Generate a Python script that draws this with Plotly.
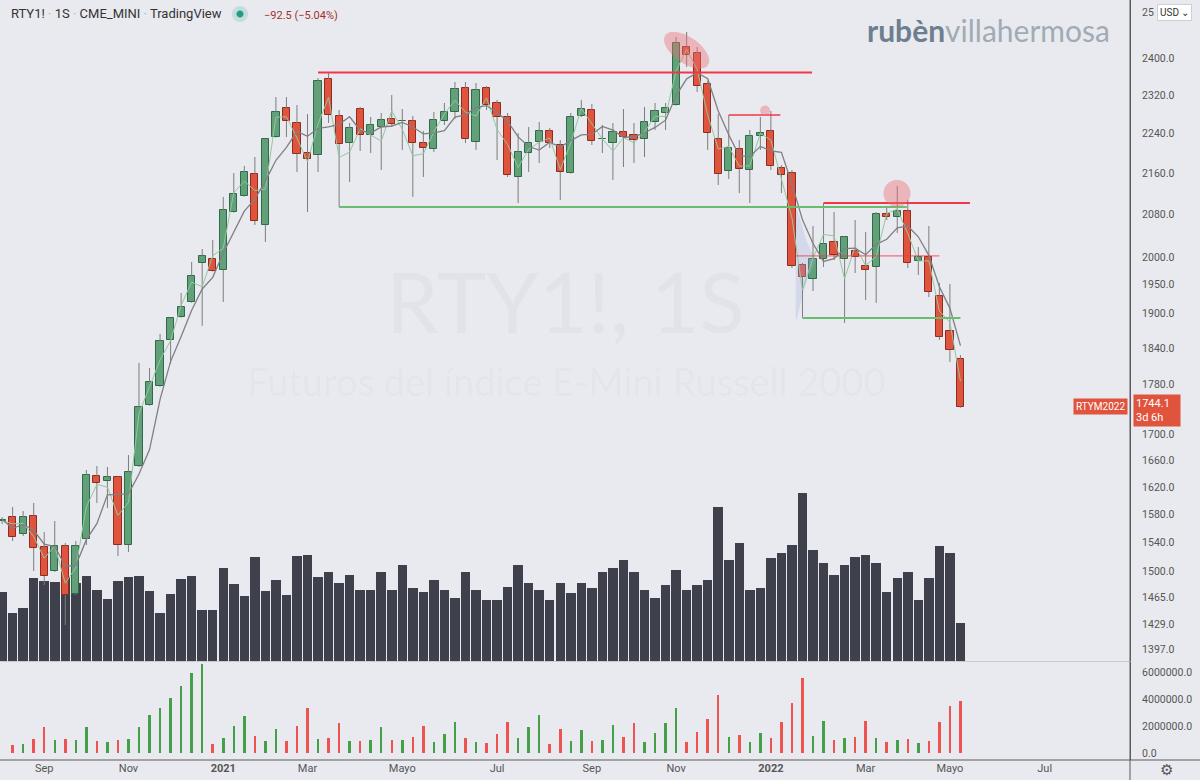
import math
import numpy as np
import pandas as pd
import plotly.graph_objects as go

# ---------------- data (weekly bars, RTY1! continuous) ----------------
week_start = pd.date_range("2020-08-10", periods=92, freq="7D")

opens = [1570.5, 1576.3, 1551.9, 1577.7, 1533.6, 1500.2, 1535.0, 1469.0, 1544.9, 1636.6,
         1629.1, 1635.1, 1536.4, 1651.6, 1746.8, 1777.3, 1853.8, 1893.1, 1919.3, 1989.0,
         1996.3, 1976.3, 2084.1, 2114.9, 2157.9, 2059.5, 2232.3, 2292.4, 2261.1, 2199.8,
         2195.8, 2354.1, 2275.7, 2220.1, 2290.3, 2236.4, 2252.9, 2269.4, 2265.3, 2265.3,
         2220.1, 2207.9, 2265.3, 2284.0, 2334.8, 2222.1, 2334.8, 2302.9, 2273.6, 2152.0,
         2199.8, 2222.1, 2244.6, 2216.0, 2159.9, 2275.7, 2288.2, 2228.2, 2220.1, 2242.6,
         2236.4, 2228.2, 2263.2, 2281.9, 2298.7, 2424.1, 2410.8, 2343.3, 2228.2, 2163.9,
         2207.9, 2165.9, 2234.4, 2244.6, 2169.8, 2159.9, 1985.4, 1960.1, 1996.3, 2027.7,
         1996.3, 2011.0, 1983.6, 1981.8, 2080.3, 2074.6, 2086.0, 1992.7, 2000.0, 1929.9,
         1869.2, 1821.7]
highs = [1576.0, 1590.8, 1585.0, 1596.6, 1554.8, 1570.5, 1539.2, 1542.0, 1645.6, 1651.6,
         1650.1, 1636.0, 1668.3, 1815.1, 1806.8, 1864.0, 1892.0, 1935.2, 1990.9, 2014.7,
         2031.4, 2113.0, 2159.9, 2173.8, 2191.8, 2229.0, 2315.6, 2315.6, 2298.7, 2279.8,
         2356.2, 2368.0, 2288.2, 2261.1, 2294.5, 2273.6, 2281.9, 2319.9, 2290.3, 2275.7,
         2244.6, 2284.0, 2302.9, 2347.6, 2347.6, 2345.5, 2339.0, 2309.3, 2281.9, 2240.5,
         2252.9, 2263.2, 2250.8, 2226.2, 2281.9, 2309.3, 2300.8, 2257.0, 2261.1, 2290.3,
         2261.1, 2294.5, 2302.9, 2302.9, 2446.4, 2457.6, 2424.1, 2349.8, 2279.8, 2277.8,
         2226.2, 2246.7, 2273.6, 2286.1, 2175.8, 2165.9, 1989.0, 2057.6, 2101.4, 2084.1,
         2038.0, 2068.9, 2046.3, 2084.1, 2093.7, 2134.4, 2107.2, 2018.4, 2057.6, 1953.0,
         1951.2, 1828.4]
lows = [1566.0, 1542.0, 1549.1, 1500.2, 1481.1, 1498.9, 1427.8, 1467.6, 1536.4, 1596.6,
        1589.3, 1521.0, 1526.6, 1650.0, 1745.5, 1776.0, 1813.4, 1892.0, 1918.0, 1877.7,
        1973.5, 1919.3, 2083.0, 2114.0, 2059.5, 2027.7, 2231.0, 2232.3, 2161.9, 2084.1,
        2161.9, 2261.1, 2093.7, 2142.2, 2203.9, 2199.8, 2165.9, 2252.9, 2205.9, 2113.0,
        2152.0, 2201.9, 2257.0, 2269.4, 2220.1, 2205.9, 2288.2, 2185.8, 2152.0, 2101.4,
        2161.9, 2179.8, 2209.9, 2107.2, 2159.0, 2273.6, 2216.0, 2199.8, 2146.1, 2171.8,
        2179.8, 2191.8, 2246.7, 2246.7, 2297.5, 2380.1, 2326.2, 2205.9, 2136.3, 2148.1,
        2120.7, 2101.4, 2205.9, 2165.9, 2120.7, 1979.9, 1891.4, 1938.7, 1981.8, 1994.5,
        1882.8, 1970.9, 1922.8, 1917.6, 2068.9, 2044.4, 1979.9, 1967.3, 1928.1, 1853.8,
        1816.7, 1742.0]
closes = [1572.5, 1547.7, 1576.3, 1532.2, 1493.4, 1535.0, 1467.6, 1535.0, 1638.1, 1626.1,
          1635.1, 1536.4, 1642.6, 1743.6, 1783.8, 1852.1, 1891.4, 1910.6, 1965.5, 2001.8,
          1974.5, 2088.0, 2118.8, 2161.9, 2067.0, 2228.2, 2284.0, 2265.3, 2197.8, 2187.8,
          2349.8, 2277.8, 2218.1, 2250.8, 2236.4, 2257.0, 2267.3, 2259.0, 2265.3, 2220.1,
          2209.9, 2267.3, 2284.0, 2332.6, 2228.2, 2330.5, 2298.7, 2273.6, 2156.0, 2201.9,
          2220.1, 2244.6, 2220.1, 2161.9, 2273.6, 2290.3, 2224.2, 2228.2, 2242.6, 2232.3,
          2226.2, 2263.2, 2286.1, 2292.4, 2433.0, 2406.4, 2339.0, 2240.5, 2157.9, 2209.9,
          2167.9, 2234.4, 2240.5, 2173.8, 2156.0, 1983.6, 1963.7, 1996.3, 2023.9, 2003.7,
          2037.0, 2000.0, 1976.3, 2080.3, 2074.6, 2086.0, 1989.0, 2000.0, 1937.0, 1858.9,
          1836.6, 1744.1]

# dark histogram drawn inside the price pane
vol_overlay = [690, 480, 530, 830, 800, 790, 840, 780, 850, 710,
               620, 800, 840, 850, 700, 480, 670, 820, 850, 510,
               510, 930, 770, 650, 1040, 700, 810, 660, 1050, 1060,
               840, 890, 780, 860, 710, 710, 890, 710, 960, 730,
               690, 810, 710, 630, 890, 710, 610, 610, 740, 960,
               780, 710, 610, 780, 680, 780, 730, 890, 930, 1010,
               890, 710, 630, 760, 910, 710, 760, 810, 1540, 1010,
               1180, 710, 730, 1030, 1080, 1160, 1680, 1110, 980, 860,
               960, 1040, 1060, 980, 690, 830, 890, 610, 830, 1150,
               1080, 380]

# lower pane volume
vol_lower = [None, 0.61e6, 0.69e6, 1.05e6, 1.91e6, 0.98e6, 1.05e6, 0.98e6, 1.91e6, 0.91e6,
             0.78e6, 0.98e6, 1.03e6, 1.96e6, 2.82e6, 3.33e6, 4.04e6, 4.99e6, 5.95e6, 6.56e6,
             0.66e6, 1.13e6, 2.03e6, 2.74e6, 1.25e6, 0.86e6, 1.79e6, 0.86e6, 2.03e6, 3.30e6,
             1.03e6, 1.08e6, 2.23e6, 0.86e6, 0.86e6, 0.93e6, 1.91e6, 0.93e6, 0.98e6, 1.22e6,
             2.03e6, 0.78e6, 1.42e6, 2.28e6, 1.10e6, 0.78e6, 0.71e6, 1.37e6, 2.28e6, 1.13e6,
             1.96e6, 2.82e6, 0.66e6, 1.79e6, 0.91e6, 1.69e6, 0.91e6, 0.98e6, 2.08e6, 1.18e6,
             2.20e6, 0.78e6, 1.47e6, 2.25e6, 3.30e6, 0.78e6, 1.59e6, 2.55e6, 4.28e6, 1.18e6,
             1.35e6, 0.81e6, 1.47e6, 1.10e6, 2.30e6, 3.67e6, 5.58e6, 1.25e6, 2.37e6, 0.95e6,
             1.13e6, 1.20e6, 2.37e6, 1.13e6, 0.78e6, 0.95e6, 1.00e6, 0.71e6, 0.88e6, 2.28e6,
             3.45e6, 3.87e6]

# small visible-range volume profile next to the breakdown candle (price, extent in bars)
profile_prices = [2088, 2055, 2031, 2013, 1998, 1984, 1964, 1935, 1906, 1889]
profile_extent = [0.15, 0.6, 1.0, 1.4, 1.9, 1.7, 1.2, 0.7, 0.35, 0.1]

price_ticks = [2400, 2320, 2240, 2160, 2080, 2000, 1950, 1900, 1840, 1780,
               1700, 1660, 1620, 1580, 1540, 1500, 1465, 1429, 1397]
vol_ticks = [0, 2000000, 4000000, 6000000]
month_names = {1: "<b>{}</b>", 3: "Mar", 5: "Mayo", 7: "Jul", 9: "Sep", 11: "Nov"}

# ---------------- derived ----------------
n = len(closes)
xs = np.arange(n)
o = np.array(opens); h = np.array(highs); l = np.array(lows); c = np.array(closes)
up = c >= o
body_lo = np.minimum(o, c)
body_hi = np.maximum(o, c)
body_h = np.maximum(body_hi - body_lo, 0.9)

ma_slow = pd.Series(c).rolling(4, min_periods=1).mean().values
mid_hl = (h + l) / 2

# month ticks
all_weeks = pd.date_range(week_start[0], "2022-08-31", freq="7D")
tickvals, ticktext = [], []
prev = None
for k, d in enumerate(all_weeks):
    if d.month != prev and prev is not None and d.month in month_names:
        tickvals.append(k)
        ticktext.append(month_names[d.month].format(d.year) if d.month == 1 else month_names[d.month])
    prev = d.month

BG = "#e9eaef"
GREEN_F, GREEN_L = "#62a07a", "#2f6b47"
RED_F, RED_L = "#e0533d", "#8e2c20"
WICK = "#7d7d7d"

fig = go.Figure()

# dark histogram (base subplot, drawn underneath the candles)
fig.add_trace(go.Bar(x=xs, y=vol_overlay, marker=dict(color="#3e404b", line=dict(width=0)),
                     width=0.9, xaxis="x", yaxis="y", hoverinfo="skip", showlegend=False))

# volume profile blob (starts at the right edge of the breakdown candle)
prof_x0 = 75 + 0.36
px_ = [prof_x0 + e for e in profile_extent] + [prof_x0, prof_x0]
py_ = list(profile_prices) + [profile_prices[-1], profile_prices[0]]
fig.add_trace(go.Scatter(x=px_, y=py_, mode="lines", fill="toself",
                         fillcolor="rgba(165,175,225,0.30)", line=dict(width=0),
                         xaxis="x", yaxis="y2", hoverinfo="skip", showlegend=False))

# wicks (upper and lower segments)
wx, wy = [], []
for k in range(n):
    wx += [k, k, None, k, k, None]
    wy += [body_hi[k], h[k], None, l[k], body_lo[k], None]
fig.add_trace(go.Scatter(x=wx, y=wy, mode="lines", line=dict(color=WICK, width=1),
                         xaxis="x", yaxis="y2", hoverinfo="skip", showlegend=False))

# bodies
for mask, fcol, lcol in [(up, GREEN_F, GREEN_L), (~up, RED_F, RED_L)]:
    fig.add_trace(go.Bar(x=xs[mask], y=body_h[mask], base=body_lo[mask], width=0.68,
                         marker=dict(color=fcol, line=dict(color=lcol, width=1)),
                         xaxis="x", yaxis="y2", hoverinfo="skip", showlegend=False))

# moving lines
fig.add_trace(go.Scatter(x=xs, y=mid_hl, mode="lines", line=dict(color="#93c79f", width=1),
                         xaxis="x", yaxis="y2", hoverinfo="skip", showlegend=False))
fig.add_trace(go.Scatter(x=xs, y=ma_slow, mode="lines", line=dict(color="#7f7f84", width=1.3),
                         xaxis="x", yaxis="y2", hoverinfo="skip", showlegend=False))

# lower pane volume
lcolors = ["#43a047" if u else "#ef5350" for u in up]
fig.add_trace(go.Bar(x=xs, y=vol_lower, width=0.24, marker=dict(color=lcolors, line=dict(width=0)),
                     xaxis="x2", yaxis="y3", hoverinfo="skip", showlegend=False))

# ---------------- layout ----------------
W, H = 1200, 780
ML, MR, MT, MB = 0, 70, 0, 20
PW, PH = W - ML - MR, H - MT - MB
main_bottom_px = 661
lower_top_px = 662

def px_x(px):
    return (px - ML) / PW

def px_y(py):
    return (H - MB - py) / PH

y_lo = 2000 * math.exp((257 - main_bottom_px) / 1092)
y_hi = 2000 * math.exp(257 / 1092)

fig.update_layout(
    width=W, height=H, margin=dict(l=ML, r=MR, t=MT, b=MB),
    paper_bgcolor=BG, plot_bgcolor=BG, barmode="overlay", bargap=0,
    font=dict(family="Roboto, Arial, sans-serif", color="#555", size=11),
    showlegend=False,
    xaxis=dict(domain=[0, 1], range=[-0.2, 107.1], anchor="y2", showticklabels=False,
               showgrid=False, zeroline=False, ticks="", showline=False),
    xaxis2=dict(domain=[0, 1], range=[-0.2, 107.1], anchor="y3", matches="x",
                tickmode="array", tickvals=tickvals, ticktext=ticktext, ticks="",
                tickfont=dict(size=11, color="#555"), showgrid=False, zeroline=False,
                showline=False),
    yaxis=dict(domain=[px_y(main_bottom_px), 1], range=[0, 6610], visible=False,
               showgrid=False, zeroline=False),
    yaxis2=dict(overlaying="y", side="right", type="log",
                range=[math.log10(y_lo), math.log10(y_hi)],
                tickmode="array", tickvals=price_ticks,
                ticktext=[f"{v:.1f}" for v in price_ticks],
                ticks="outside", ticklen=9, tickcolor="rgba(0,0,0,0)",
                tickfont=dict(size=10.5, color="#555"), showgrid=False, zeroline=False,
                showline=True, linecolor="#5a5a5a", linewidth=1, anchor="x"),
    yaxis3=dict(domain=[0, px_y(lower_top_px)], range=[-0.52e6, 6.74e6], side="right",
                anchor="x2", tickmode="array", tickvals=vol_ticks,
                ticktext=[f"{v:.1f}" for v in vol_ticks],
                ticks="outside", ticklen=9, tickcolor="rgba(0,0,0,0)",
                tickfont=dict(size=10.5, color="#555"), showgrid=False, zeroline=False,
                showline=True, linecolor="#5a5a5a", linewidth=1),
)

shapes = []
def hline(y, x0, x1, color, width):
    shapes.append(dict(type="line", xref="x", yref="y2", x0=x0, x1=x1, y0=y, y1=y,
                       line=dict(color=color, width=width)))

RED_LINE = "#f23645"
GREEN_LINE = "#6cbc70"
hline(2368.0, 30.0, 76.9, RED_LINE, 2)
hline(2093.7, 32.0, 85.9, GREEN_LINE, 2)
hline(2277.8, 69.0, 73.9, RED_LINE, 1.5)
hline(2002.0, 75.3, 89.0, "rgba(242,54,69,0.85)", 1)
hline(2101.4, 78.0, 91.9, RED_LINE, 2)
hline(1891.4, 76.0, 91.0, GREEN_LINE, 2)

def ellipse_path(a_, b_, th_deg, npts=48):
    th = math.radians(th_deg)
    pts = []
    for t in np.linspace(0, 2 * math.pi, npts):
        dx = a_ * math.cos(t) * math.cos(th) - b_ * math.sin(t) * math.sin(th)
        dy = a_ * math.cos(t) * math.sin(th) + b_ * math.sin(t) * math.cos(th)
        pts.append(f"{dx:.1f},{-dy:.1f}")
    return "M " + " L ".join(pts) + " Z"

HIGHLIGHT = "rgba(236,110,115,0.42)"
for cx, cy, a_, b_, th in [(65.0, 2417.0, 26, 13, 35), (72.45, 2287.0, 5, 5, 0),
                           (84.97, 2120.0, 13.5, 13.5, 0)]:
    shapes.append(dict(type="path", xref="x", yref="y2", xsizemode="pixel", ysizemode="pixel",
                       xanchor=cx, yanchor=cy, path=ellipse_path(a_, b_, th),
                       fillcolor=HIGHLIGHT, line=dict(width=0)))
# pane separators / frame
shapes.append(dict(type="line", xref="paper", yref="paper", x0=0, x1=1,
                   y0=px_y(661.5), y1=px_y(661.5), line=dict(color="#c9cacf", width=1)))
shapes.append(dict(type="line", xref="paper", yref="paper", x0=0, x1=W / PW,
                   y0=0, y1=0, line=dict(color="#5a5a5a", width=1)))
shapes.append(dict(type="line", xref="paper", yref="paper", x0=1, x1=1,
                   y0=-MB / PH, y1=1, line=dict(color="#5a5a5a", width=1)))
# status dot in the header
for r, col in [(8, "rgba(38,166,154,0.18)"), (3.5, "#1fa083")]:
    shapes.append(dict(type="path", xref="paper", yref="paper", xsizemode="pixel",
                       ysizemode="pixel", xanchor=px_x(240), yanchor=px_y(14),
                       path=ellipse_path(r, r, 0, 32), fillcolor=col, line=dict(width=0)))
fig.update_layout(shapes=shapes)

ann = []
def text(px, py, s, size, color, xanchor="left", **kw):
    ann.append(dict(x=px_x(px), y=px_y(py), xref="paper", yref="paper", text=s,
                    showarrow=False, xanchor=xanchor, yanchor="middle",
                    font=dict(size=size, color=color, family=kw.pop("family", "Roboto, Arial, sans-serif")),
                    **kw))

# watermark
text(565, 300, "RTY1!, 1S", 84, "rgba(90,90,110,0.045)", xanchor="center", family="Lato, sans-serif")
text(566, 381, "Futuros del índice E-Mini Russell 2000", 38, "rgba(90,90,110,0.045)",
     xanchor="center", family="Lato, sans-serif")

# header
sep = "<span style='color:#b0b0b0'> · </span>"
text(9, 14, "RTY1!" + sep + "1S" + sep + "CME_MINI" + sep + "TradingView", 13, "#333")
text(262, 15, "−92.5 (−5.04%)", 11, "#a3312a")

# logo
text(988, 30, "<b>rubèn</b><span style='color:#a2abb5'>villahermosa</span>", 30, "#6e7e8f",
     xanchor="center", family="Lato, sans-serif")

# price labels
text(1073, 406, "RTYM2022", 10, "white", bgcolor=RED_F, borderpad=2)
text(1133, 411, "1744.1   <br>3d 6h", 11, "white", bgcolor=RED_F, borderpad=2, align="left")
text(1140, 12, "25", 10.5, "#555")
text(1157, 12, "USD ⌄", 10, "#333", bgcolor="white", bordercolor="#cfcfd4", borderpad=2)
text(1166, 770, "⚙", 15, "#555", xanchor="center")

fig.update_layout(annotations=ann)
fig.write_html("out.html", config={"displayModeBar": False},
               post_script="document.body.style.margin='0';document.body.style.overflow='hidden';")
